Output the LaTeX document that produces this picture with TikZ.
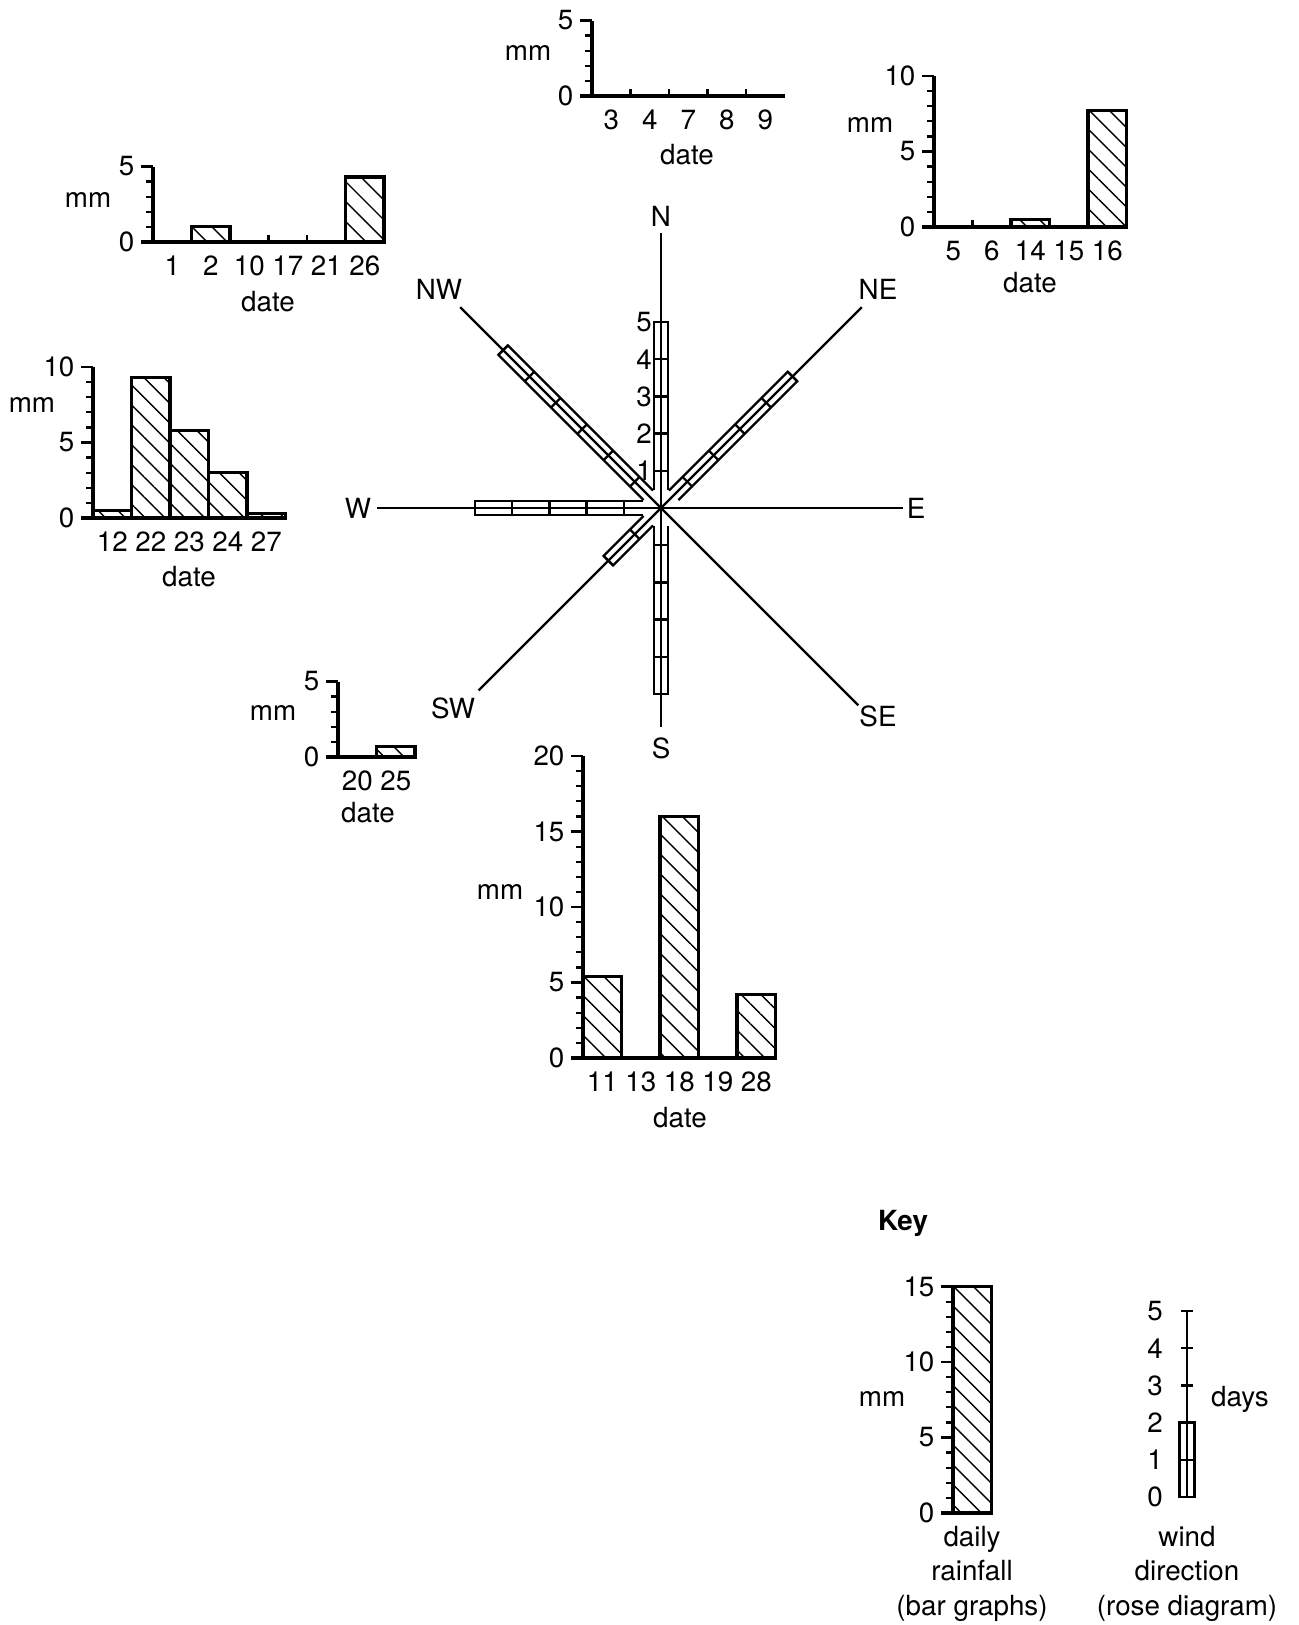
\documentclass[tikz,border=0pt]{standalone}
\usepackage{fontspec}
\setmainfont{TeX Gyre Heros}
\usetikzlibrary{patterns.meta}
\tikzset{
  axis/.style = {line width=1.8pt},
  tick/.style = {line width=1.3pt},
  bar/.style = {line width=1.8pt, pattern={Lines[angle=-45, distance=8pt, line width=0.8pt]}},
  wind/.style = {line width=1.3pt},
  txt/.style = {font=\fontsize{15.8}{19.4}\selectfont, inner sep=3pt}
}
\newcommand{\barw}{38.5}
\newcommand{\dayl}{37.2}

% one rainfall bar graph: name, origin, top of scale, date/height list
\newcommand{\rainchart}[4]{%
  \begin{scope}[shift={#2}, y=0.302cm]
    \foreach \d/\h [count=\i] in {#4} {
      \ifdim\h pt>0pt \draw[bar] ({(\i-1)*\barw},0) rectangle ({\i*\barw},\h); \fi
      \node[txt, yshift=-0.48cm] (#1-d\i) at ({(\i-0.5)*\barw},0) {\d};
      \xdef\nbars{\i}
    }
    \foreach \m in {1,...,#3} \draw[tick] (-7,\m) -- (0,\m);
    \foreach \m in {0,5,...,#3} {
      \draw[tick] (-12,\m) -- (0,\m);
      \node[txt, anchor=east] (#1-y\m) at (-13,\m) {\m};
    }
    \draw[axis] (0,#3) -- (0,0) -- ({\nbars*\barw},0);
    \draw[axis] (-12,0) -- (0,0);
  \end{scope}}

\begin{document}
\begin{tikzpicture}[x=0.02cm, y=-0.02cm]

    \useasboundingbox (0,0) rectangle (1298,1625);

    %% Rainfall bar graphs

    % N
    \rainchart{n}{(592,96)}{5}{3/0, 4/0, 7/0, 8/0, 9/0}
    \foreach \t in {1,...,4} \draw[tick] ({592+\t*\barw},96) -- ++(0,-7);
    \node[txt] (n-mm) at (528,53) {mm};
    \node[txt] (n-date) at (687,155) {date};

    % NE
    \rainchart{ne}{(934,227)}{10}{5/0, 6/0, 14/0.5, 15/0, 16/7.7}
    \draw[tick] ({934+\barw},227) -- ++(0,-7);
    \node[txt] (ne-mm) at (870,125) {mm};
    \node[txt] (ne-date) at (1030,283) {date};

    % NW
    \rainchart{nw}{(153,242)}{5}{1/0, 2/1, 10/0, 17/0, 21/0, 26/4.3}
    \foreach \t in {3,4} \draw[tick] ({153+\t*\barw},242) -- ++(0,-7);
    \node[txt] (nw-mm) at (88,200) {mm};
    \node[txt] (nw-date) at (268,302) {date};

    % W
    \rainchart{w}{(93,518)}{10}{12/0.5, 22/9.3, 23/5.8, 24/3, 27/0.3}
    \node[txt] (w-mm) at (32,405) {mm};
    \node[txt] (w-date) at (189,577) {date};

    % SW
    \rainchart{sw}{(338,757)}{5}{20/0, 25/0.7}
    \node[txt] (sw-mm) at (273,713) {mm};
    \node[txt] (sw-date) at (368,813) {date};

    % S
    \rainchart{s}{(583,1058)}{20}{11/5.4, 13/0, 18/16, 19/0, 28/4.2}
    \node[txt] (s-mm) at (500,892) {mm};
    \node[txt] (s-date) at (680,1118) {date};

    %% Rose diagram

    \begin{scope}[shift={(661,508)}, y=0.02cm]
      % direction lines
      \foreach \ang/\len in {90/275, 45/284, 0/242, -45/279, -90/219, -135/258, 180/284, 135/284}
        \draw[wind] (0,0) -- (\ang:\len);
      % wind days
      \foreach \ang/\n in {90/5, 45/5, 180/5, 135/6, -90/5, -135/2} {
        \begin{scope}[rotate=\ang]
          \draw[wind] (18,-6.7) -- ({\n*\dayl},-6.7) -- ({\n*\dayl},6.7) -- (18,6.7);
          \foreach \k in {1,...,\n} \draw[wind] ({\k*\dayl},-6.7) -- ({\k*\dayl},6.7);
        \end{scope}
      }
      \foreach \k in {1,...,5}
        \node[txt, anchor=east, inner sep=1pt] (rose-\k) at (-7,{\k*\dayl}) {\k};
      % compass points
      \node[txt, inner sep=0pt] (N) at (0,292) {N};
      \node[txt, inner sep=0pt] (NE) at (217,219) {NE};
      \node[txt, inner sep=0pt] (E) at (255,0) {E};
      \node[txt, inner sep=0pt] (SE) at (217,-208) {SE};
      \node[txt, inner sep=0pt] (S) at (0,-240) {S};
      \node[txt, inner sep=0pt] (SW) at (-208,-200) {SW};
      \node[txt, inner sep=0pt] (W) at (-303,0) {W};
      \node[txt, inner sep=0pt] (NW) at (-222,219) {NW};
    \end{scope}

    %% Key

    \node[txt] (key) at (903,1223) {\bfseries Key};

    % rainfall
    \rainchart{key}{(953,1513)}{15}{{}/15}
    \node[txt] (key-mm) at (882,1399) {mm};
    \node[txt, align=center, anchor=north] (key-rain) at (972,1521) {daily\\rainfall\\(bar graphs)};

    % wind
    \draw[wind] (1187,1311) -- (1187,1497);
    \foreach \k in {3,4,5} \draw[wind] (1181,{1497-\k*\dayl}) -- (1193,{1497-\k*\dayl});
    \draw[wind] (1179.5,1497) rectangle (1194.5,{1497-2*\dayl});
    \draw[wind] (1179.5,{1497-\dayl}) -- (1194.5,{1497-\dayl});
    \foreach \k in {0,...,5} \node[txt] (key-day\k) at (1155,{1497-\k*\dayl}) {\k};
    \node[txt] (key-days) at (1240,1399) {days};
    \node[txt, align=center, anchor=north] (key-wind) at (1187,1521) {wind\\direction\\(rose diagram)};

\end{tikzpicture}
\end{document}
